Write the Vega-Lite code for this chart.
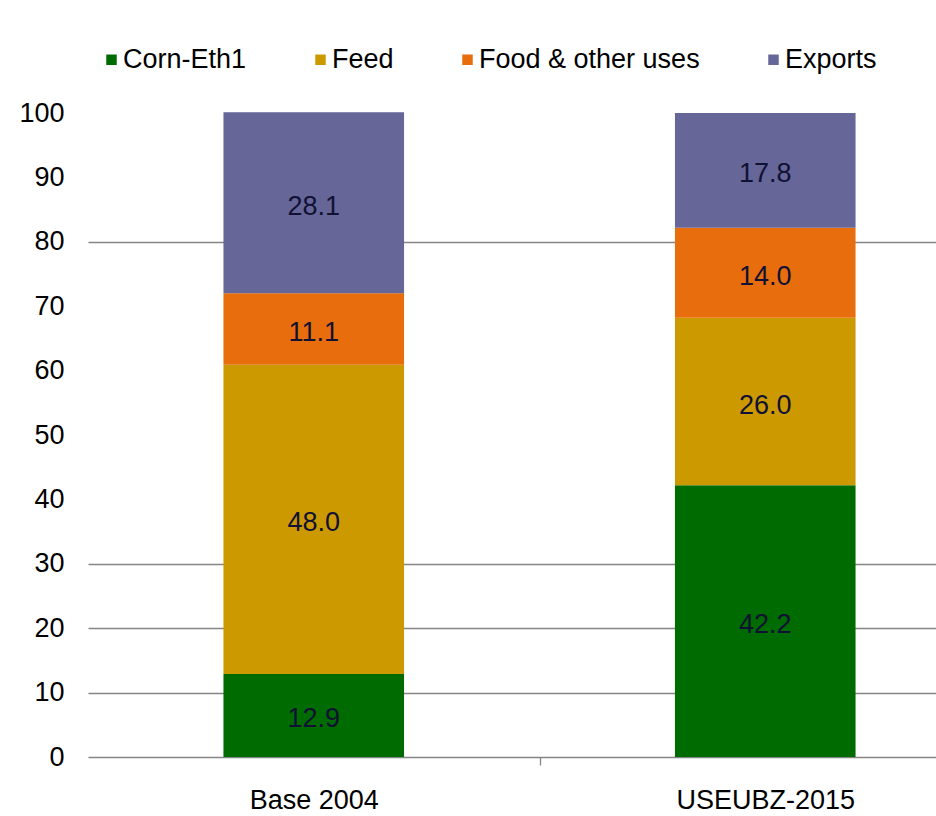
{
  "$schema": "https://vega.github.io/schema/vega-lite/v6.json",
  "autosize": "none",
  "width": 855,
  "height": 644,
  "padding": {"left": 81, "top": 113, "right": 0, "bottom": 59},
  "background": "white",
  "config": {
    "view": {"stroke": null},
    "font": "Liberation Sans"
  },
  "data": {
    "values": [
      {"scenario": "Base 2004", "use": "Corn-Eth1", "order": 1, "value": 12.9},
      {"scenario": "Base 2004", "use": "Feed", "order": 2, "value": 48.0},
      {"scenario": "Base 2004", "use": "Food & other uses", "order": 3, "value": 11.1},
      {"scenario": "Base 2004", "use": "Exports", "order": 4, "value": 28.1},
      {"scenario": "USEUBZ-2015", "use": "Corn-Eth1", "order": 1, "value": 42.2},
      {"scenario": "USEUBZ-2015", "use": "Feed", "order": 2, "value": 26.0},
      {"scenario": "USEUBZ-2015", "use": "Food & other uses", "order": 3, "value": 14.0},
      {"scenario": "USEUBZ-2015", "use": "Exports", "order": 4, "value": 17.8}
    ]
  },
  "transform": [
    {"stack": "value", "groupby": ["scenario"], "sort": [{"field": "order", "order": "ascending"}], "as": ["y0", "y1"]},
    {"calculate": "(datum.y0 + datum.y1) / 2", "as": "ymid"}
  ],
  "encoding": {
    "x": {
      "field": "scenario",
      "type": "nominal",
      "sort": ["Base 2004", "USEUBZ-2015"],
      "scale": {"range": [7, 910], "paddingInner": 0, "paddingOuter": 0},
      "axis": {
        "title": null,
        "labelAngle": 0,
        "labelFontSize": 27,
        "labelColor": "#000000",
        "labelPadding": 22,
        "domain": false,
        "ticks": true,
        "tickBand": "extent",
        "tickSize": 8,
        "tickColor": "#858585",
        "tickWidth": 1.3,
        "tickOpacity": {"condition": {"test": "datum.value === 'Base 2004'", "value": 1}, "value": 0},
        "grid": false
      }
    }
  },
  "layer": [
    {
      "mark": {"type": "bar", "width": {"band": 0.4}},
      "encoding": {
        "y": {
          "field": "y0",
          "type": "quantitative",
          "scale": {"domain": [0, 100], "nice": false},
          "axis": {
            "title": null,
            "values": [0, 10, 20, 30, 40, 50, 60, 70, 80, 90, 100],
            "domain": false,
            "ticks": false,
            "tickSize": 0,
            "labelFontSize": 27,
            "labelColor": "#000000",
            "labelPadding": 17,
            "grid": true,
            "gridColor": "#858585",
            "gridWidth": 1.3,
            "gridOpacity": {"condition": {"test": "(datum.value >= 40 && datum.value <= 70) || datum.value >= 90", "value": 0}, "value": 1}
          }
        },
        "y2": {"field": "y1"},
        "color": {
          "field": "use",
          "type": "nominal",
          "sort": ["Corn-Eth1", "Feed", "Food & other uses", "Exports"],
          "scale": {
            "domain": ["Corn-Eth1", "Feed", "Food & other uses", "Exports"],
            "range": ["#006B00", "#CC9A00", "#E86D0C", "#666699"]
          },
          "legend": {
            "title": null,
            "orient": "none",
            "direction": "horizontal",
            "legendX": 17,
            "legendY": -67,
            "padding": 0,
            "symbolType": "square",
            "symbolSize": 110,
            "symbolStrokeWidth": 0,
            "symbolOpacity": 1,
            "labelFontSize": 27,
            "labelLimit": 0,
            "labelColor": "#000000",
            "labelOffset": -2,
            "columnPadding": 60
          }
        }
      }
    },
    {
      "mark": {"type": "text", "fontSize": 27, "color": "#111133", "baseline": "middle", "align": "center", "dy": 4},
      "encoding": {
        "y": {"field": "ymid", "type": "quantitative"},
        "text": {"field": "value", "type": "quantitative", "format": ".1f"}
      }
    }
  ]
}
